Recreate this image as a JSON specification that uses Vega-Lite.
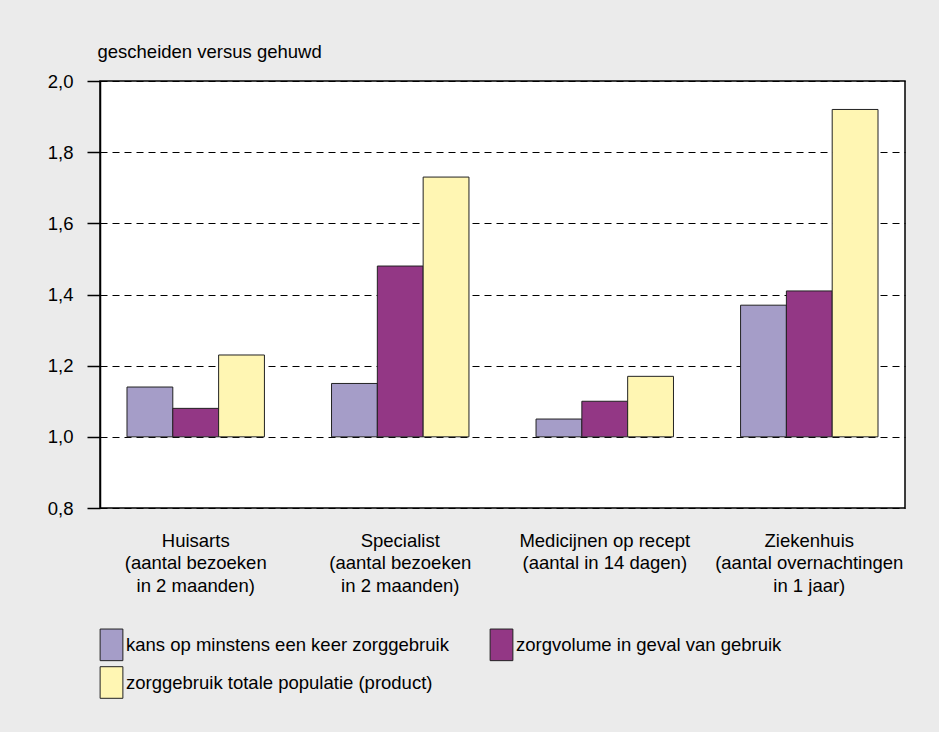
{
  "$schema": "https://vega.github.io/schema/vega-lite/v6.json",
  "width": 805,
  "height": 427,
  "autosize": "none",
  "padding": {"left": 100, "top": 81, "right": 34, "bottom": 224},
  "background": "#ebebeb",
  "config": {
    "font": "Liberation Sans",
    "view": {"fill": "white", "stroke": "black", "strokeWidth": 1.5}
  },
  "data": {
    "values": [
      {"categorie": "Huisarts|(aantal bezoeken|in 2 maanden)", "reeks": "kans op minstens een keer zorggebruik", "waarde": 1.14},
      {"categorie": "Huisarts|(aantal bezoeken|in 2 maanden)", "reeks": "zorgvolume in geval van gebruik", "waarde": 1.08},
      {"categorie": "Huisarts|(aantal bezoeken|in 2 maanden)", "reeks": "zorggebruik totale populatie (product)", "waarde": 1.23},
      {"categorie": "Specialist|(aantal bezoeken|in 2 maanden)", "reeks": "kans op minstens een keer zorggebruik", "waarde": 1.15},
      {"categorie": "Specialist|(aantal bezoeken|in 2 maanden)", "reeks": "zorgvolume in geval van gebruik", "waarde": 1.48},
      {"categorie": "Specialist|(aantal bezoeken|in 2 maanden)", "reeks": "zorggebruik totale populatie (product)", "waarde": 1.73},
      {"categorie": "Medicijnen op recept|(aantal in 14 dagen)", "reeks": "kans op minstens een keer zorggebruik", "waarde": 1.05},
      {"categorie": "Medicijnen op recept|(aantal in 14 dagen)", "reeks": "zorgvolume in geval van gebruik", "waarde": 1.10},
      {"categorie": "Medicijnen op recept|(aantal in 14 dagen)", "reeks": "zorggebruik totale populatie (product)", "waarde": 1.17},
      {"categorie": "Ziekenhuis|(aantal overnachtingen|in 1 jaar)", "reeks": "kans op minstens een keer zorggebruik", "waarde": 1.37},
      {"categorie": "Ziekenhuis|(aantal overnachtingen|in 1 jaar)", "reeks": "zorgvolume in geval van gebruik", "waarde": 1.41},
      {"categorie": "Ziekenhuis|(aantal overnachtingen|in 1 jaar)", "reeks": "zorggebruik totale populatie (product)", "waarde": 1.92}
    ]
  },
  "mark": {"type": "bar", "stroke": "#222222", "strokeWidth": 1},
  "encoding": {
    "x": {
      "field": "categorie",
      "type": "nominal",
      "sort": null,
      "scale": {"paddingInner": 0.328, "paddingOuter": 0.132},
      "axis": {
        "title": null,
        "labelAngle": 0,
        "ticks": false,
        "domain": false,
        "labelExpr": "split(datum.label, '|')",
        "labelFontSize": 18.5,
        "labelColor": "black",
        "labelPadding": 38,
        "labelLineHeight": 22.5,
        "labelLimit": 400,
        "labelBaseline": "alphabetic"
      }
    },
    "xOffset": {"field": "reeks", "type": "nominal", "sort": null},
    "y": {
      "field": "waarde",
      "type": "quantitative",
      "scale": {"domain": [0.8, 2.0], "nice": false, "zero": false},
      "axis": {
        "values": [0.8, 1.0, 1.2, 1.4, 1.6, 1.8, 2.0],
        "labelExpr": "replace(format(datum.value, '.1f'), '.', ',')",
        "labelFontSize": 18.5,
        "labelColor": "black",
        "labelPadding": 14,
        "tickSize": 13,
        "tickColor": "black",
        "tickWidth": 1.5,
        "domainColor": "black",
        "domainWidth": 1.5,
        "grid": true,
        "gridColor": "black",
        "gridDash": [7, 5],
        "gridWidth": 1,
        "title": "gescheiden versus gehuwd",
        "titleAngle": 0,
        "titleAlign": "left",
        "titleBaseline": "alphabetic",
        "titleX": -3,
        "titleY": -24,
        "titleFontSize": 18.5,
        "titleFontWeight": "normal",
        "titleColor": "black"
      }
    },
    "y2": {"datum": 1.0},
    "color": {
      "field": "reeks",
      "type": "nominal",
      "sort": null,
      "scale": {
        "domain": ["kans op minstens een keer zorggebruik", "zorgvolume in geval van gebruik", "zorggebruik totale populatie (product)"],
        "range": ["#a59dc8", "#933785", "#fff6b3"]
      },
      "legend": {
        "title": null,
        "orient": "none",
        "legendX": -5,
        "legendY": 547,
        "direction": "horizontal",
        "columns": 2,
        "symbolType": "M-0.72,-1H0.72V1H-0.72Z",
        "symbolSize": 1000,
        "symbolStrokeColor": "#222222",
        "symbolStrokeWidth": 1,
        "symbolOpacity": 1,
        "labelFontSize": 18.5,
        "labelColor": "black",
        "labelOffset": -2,
        "labelLimit": 500,
        "rowPadding": 1,
        "columnPadding": 36
      }
    }
  }
}
